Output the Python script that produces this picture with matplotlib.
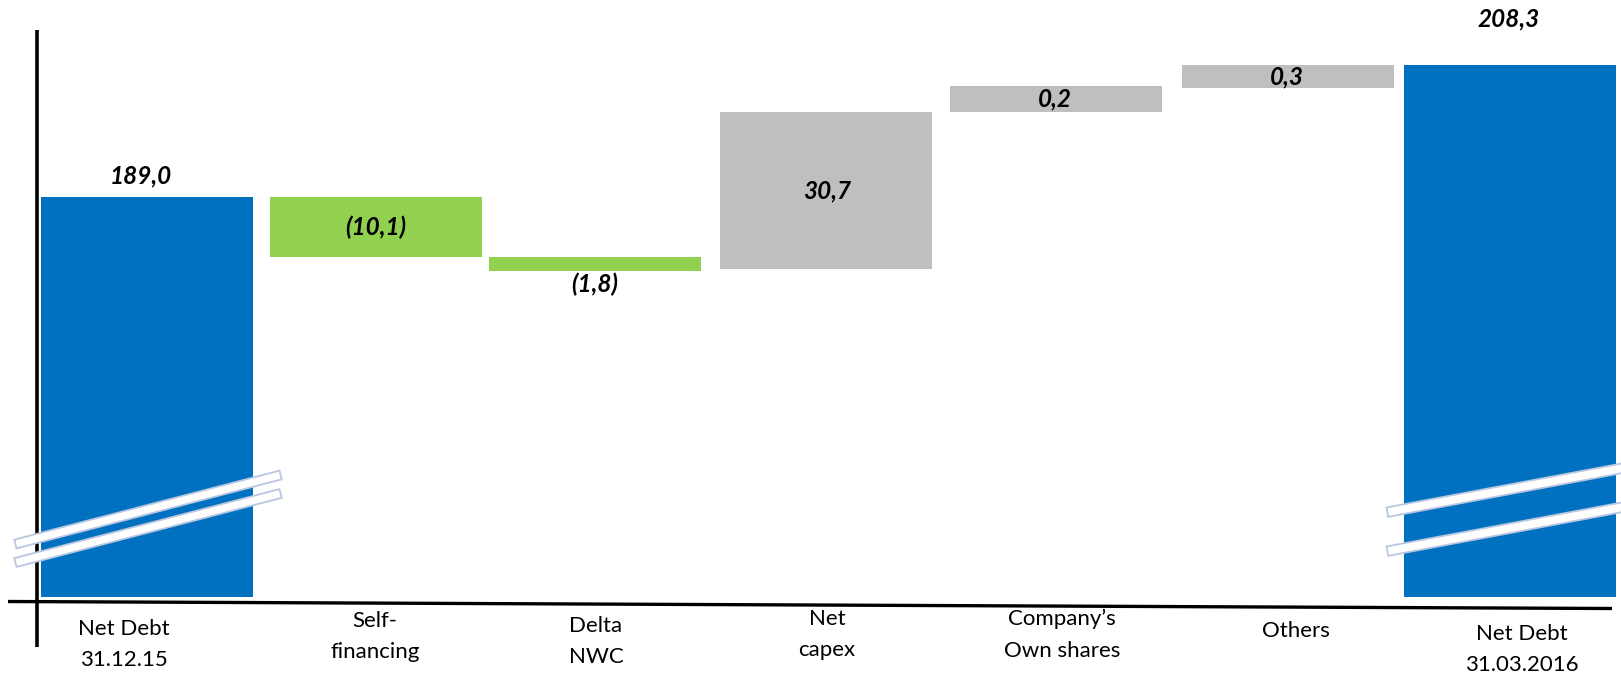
import matplotlib.pyplot as plt
from matplotlib.patches import Polygon
import numpy as np

# ----------------------------
# Daten (Werte wie im Chart beschriftet)
# ----------------------------
categories = ["Net Debt\n31.12.15", "Self-\nfinancing", "Delta\nNWC", "Net\ncapex",
              "Company\u2019s\nOwn shares", "Others", "Net Debt\n31.03.2016"]
values = [189.0, -10.1, -1.8, 30.7, 0.2, 0.3, 208.3]
kind = ["total", "down", "down", "up", "up", "up", "total"]

# gezeichnete Balkenenden (Achse ist gebrochen, also nicht maßstabsgetreu)
drawn_bottom = [0, 340, 326, 328, 485, 509, 0]
drawn_top = [400, 400, 340, 485, 511, 532, 532]

# ----------------------------
# Layout / Stil
# ----------------------------
W, H = 1621, 675
SLOT_PX = 227.2      # Abstand der Balken in Pixel
X0_PX = 148          # Mitte des ersten Balkens
BASE_PX = 597        # Nulllinie
BAR_W = 0.933

colors = {"total": "#0070C0", "down": "#92D050", "up": "#BFBFBF"}
bar_dx = [-0.7, 0.7, -7.5, -3.6, -0.8, 4, -1.2]   # px, Balken leicht unregelmäßig
label_anchor = ["top", "mid", "bottom", "mid", "mid", "mid", "top"]
label_dy = [21, 0, -13, 0, 0, 0, 46]              # px
label_dx = [-6, 0, 0, 1, -1.5, -1, -1]            # px
cat_dx = [-23, -1, 1, 1, 6, 8, 12]                # px
cat_y = [619, 611, 616, 609, 609, 621, 624]       # px, Oberkante erste Zeile

FONT = "Lato"


def px(xp, yp):
    """Pixelposition -> Datenkoordinaten (nur für Deko)"""
    return (xp - X0_PX) / SLOT_PX, BASE_PX - yp


def break_strip(ax, x_slot, yc, length, angle_deg, thick):
    # Streifen für Achsenbruch, in Pixelmaßen um Mittelpunkt gebaut
    a = np.radians(angle_deg)
    d = np.array([np.cos(a), np.sin(a)]) * length / 2
    n = np.array([-np.sin(a), np.cos(a)]) * thick / 2
    c = np.array([x_slot * SLOT_PX, yc])
    pts = [c - d - n, c + d - n, c + d + n, c - d + n]
    pts = [(p[0] / SLOT_PX, p[1]) for p in pts]
    ax.add_patch(Polygon(pts, closed=True, facecolor="white",
                         edgecolor="#B9C7E0", linewidth=1.3, zorder=5))


fig = plt.figure(figsize=(W / 100, H / 100), dpi=100)
ax = fig.add_axes([0, 0, 1, 1])
ax.set_xlim(-X0_PX / SLOT_PX, (W - X0_PX) / SLOT_PX)
ax.set_ylim(BASE_PX - H, BASE_PX)
ax.axis("off")

x = np.arange(len(categories)) + np.array(bar_dx) / SLOT_PX
heights = np.array(drawn_top) - np.array(drawn_bottom)
ax.bar(x, heights, bottom=drawn_bottom, width=BAR_W,
       color=[colors[k] for k in kind], zorder=2)

# Wertebeschriftung
for i, v in enumerate(values):
    txt = f"{abs(v):.1f}".replace(".", ",")
    if v < 0:
        txt = f"({txt})"
    if label_anchor[i] == "top":
        y = drawn_top[i]
    elif label_anchor[i] == "bottom":
        y = drawn_bottom[i]
    else:
        y = (drawn_top[i] + drawn_bottom[i]) / 2
    ax.text(x[i] + label_dx[i] / SLOT_PX, y + label_dy[i], txt,
            ha="center", va="center", fontsize=17.5, fontweight="bold",
            fontstyle="italic", family=FONT, color="black", zorder=6)

# Kategorien unter der Achse
for i, c in enumerate(categories):
    ax.text(x[i] + cat_dx[i] / SLOT_PX, BASE_PX - cat_y[i], c,
            ha="center", va="top", fontsize=16, family=FONT,
            linespacing=1.7, color="black")

# Achsenlinien (leicht schief wie im Original)
xa, ya0 = px(36.5, 30)
_, ya1 = px(36.5, 647)
ax.plot([xa, xa], [ya0, ya1], color="black", linewidth=2.6, zorder=3,
        solid_capstyle="butt")
hx0, hy0 = px(8, 601.5)
hx1, hy1 = px(1612, 608.5)
ax.plot([hx0, hx1], [hy0, hy1], color="black", linewidth=2.4, zorder=3,
        solid_capstyle="butt")

# Achsenbruch-Markierungen
break_strip(ax, 0, 87.5, 274, 14.6, 9)
break_strip(ax, 0, 69, 274, 14.6, 9)
break_strip(ax, 6, 108, 252, 10.6, 9.5)
break_strip(ax, 6, 69, 252, 10.6, 9.5)

fig.savefig("out.png", dpi=100)
